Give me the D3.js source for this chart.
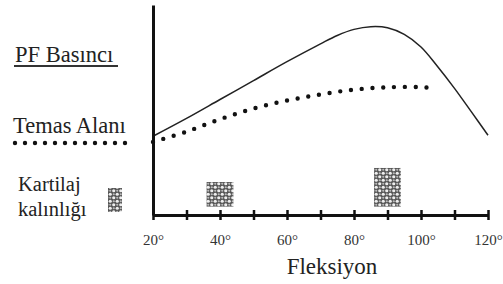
<!DOCTYPE html>
<html>
<head>
<meta charset="utf-8">
<script src="https://cdn.jsdelivr.net/npm/d3@7"></script>
<style>
  html, body { margin: 0; padding: 0; background: #fff; }
</style>
</head>
<body>
<div id="chart"></div>
<script>
/* ── Data (y is an arbitrary 0–100 scale) ── */
const flexion    = [20, 30, 40, 50, 60, 70, 75, 80, 85, 90, 95, 100, 105, 110, 115, 120];
const pfPressure = [37.5, 46, 55, 64, 73, 81.5, 85.5, 88.4, 89.7, 89.2, 86, 80, 70.6, 60.3, 49.2, 38];

const contactDeg  = [20, 30, 40, 50, 60, 70, 80, 90, 100, 104];
const contactArea = [34.8, 39.7, 45.6, 50.7, 54.5, 57.4, 59.7, 60.8, 60.9, 60.3];

const cartilageDeg   = [40, 90];
const cartilageThick = [15.7, 22.4];

const tickValues = [20, 30, 40, 50, 60, 70, 80, 90, 100, 110, 120];
const tickLabels = ['20°', '', '40°', '', '60°', '', '80°', '', '100°', '', '120°'];

/* ── Layout ── */
const W = 503, H = 284;
const X0 = 153, X1 = 488, Y0 = 215, Y1 = 5;
const SERIF = '"Liberation Serif", "Times New Roman", Tinos, "DejaVu Serif", serif';

const x = d3.scaleLinear().domain([20, 120]).range([X0, X1]);
const y = d3.scaleLinear().domain([0, 100]).range([Y0, Y1]);

const svg = d3.select('#chart').append('svg')
  .attr('width', W).attr('height', H);

// small helper so every label gets the serif face explicitly
function label(txt, px, py, size, anchor) {
  return svg.append('text')
    .attr('x', px).attr('y', py)
    .attr('text-anchor', anchor || 'start')
    .style('font-family', SERIF)
    .style('font-size', size + 'px')
    .style('fill', '#222')
    .text(txt);
}

/* pattern for cartilage bars: white circles on dark grey */
const defs = svg.append('defs');
const pat = defs.append('pattern')
  .attr('id', 'cells')
  .attr('patternUnits', 'userSpaceOnUse')
  .attr('width', 7).attr('height', 7);
pat.append('rect').attr('width', 7).attr('height', 7).attr('fill', '#555');
pat.append('circle').attr('cx', 1.75).attr('cy', 1.75).attr('r', 1.6).attr('fill', '#eee');
pat.append('circle').attr('cx', 5.25).attr('cy', 5.25).attr('r', 1.6).attr('fill', '#eee');
pat.append('circle').attr('cx', 5.25).attr('cy', 1.75).attr('r', 1.1).attr('fill', '#bbb');
pat.append('circle').attr('cx', 1.75).attr('cy', 5.25).attr('r', 1.1).attr('fill', '#bbb');

/* ── Cartilage bars ── */
const barHalf = 4;   // degrees
svg.selectAll('.bar')
  .data(cartilageDeg.map((d, i) => ({ deg: d, v: cartilageThick[i] })))
  .join('rect')
  .attr('class', 'bar')
  .attr('x', d => x(d.deg - barHalf))
  .attr('width', d => x(d.deg + barHalf) - x(d.deg - barHalf))
  .attr('y', d => y(d.v))
  .attr('height', d => y(4) - y(d.v))
  .attr('fill', 'url(#cells)');

/* ── Curves ── */
const line = d3.line()
  .x(d => x(d[0]))
  .y(d => y(d[1]))
  .curve(d3.curveCatmullRom);

svg.append('path')
  .datum(flexion.map((d, i) => [d, pfPressure[i]]))
  .attr('d', line)
  .attr('fill', 'none')
  .attr('stroke', '#222')
  .attr('stroke-width', 1.5);

svg.append('path')
  .datum(contactDeg.map((d, i) => [d, contactArea[i]]))
  .attr('d', line)
  .attr('fill', 'none')
  .attr('stroke', '#111')
  .attr('stroke-width', 4.4)
  .attr('stroke-linecap', 'round')
  .attr('stroke-dasharray', '0 10.8');

/* ── Axes ── */
const xAxis = d3.axisBottom(x)
  .tickValues(tickValues)
  .tickFormat((d, i) => tickLabels[i])
  .tickSize(5)
  .tickSizeOuter(0);

const gx = svg.append('g')
  .attr('transform', `translate(0,${Y0})`)
  .call(xAxis);
gx.select('.domain').attr('stroke', '#111').attr('stroke-width', 3);
gx.selectAll('.tick line').attr('y1', -5).attr('y2', 5)
  .attr('stroke', '#111').attr('stroke-width', 2.5);
gx.selectAll('.tick text')
  .attr('y', 30).attr('dy', null)
  .style('font-family', SERIF)
  .style('font-size', '15px')
  .style('fill', '#333');

const gy = svg.append('g')
  .attr('transform', `translate(${X0},0)`)
  .call(d3.axisLeft(y).ticks(0).tickSizeOuter(0));
gy.select('.domain').attr('stroke', '#111').attr('stroke-width', 3);

label('Fleksiyon', 332, 274, 23, 'middle');

/* ── Legend ── */
label('PF Basıncı', 15, 62, 22.5);
svg.append('line')
  .attr('x1', 14).attr('x2', 118)
  .attr('y1', 66).attr('y2', 66)
  .attr('stroke', '#333').attr('stroke-width', 2);

label('Temas Alanı', 13, 133, 22.5);
svg.append('line')
  .attr('x1', 15).attr('x2', 126)
  .attr('y1', 143).attr('y2', 143)
  .attr('stroke', '#111').attr('stroke-width', 4.4)
  .attr('stroke-linecap', 'round')
  .attr('stroke-dasharray', '0 10');

label('Kartilaj', 18, 191, 20.5);
label('kalınlığı', 18, 216, 20.5);
svg.append('rect')
  .attr('x', 108).attr('y', 188)
  .attr('width', 14).attr('height', 24)
  .attr('fill', 'url(#cells)');
</script>
</body>
</html>
